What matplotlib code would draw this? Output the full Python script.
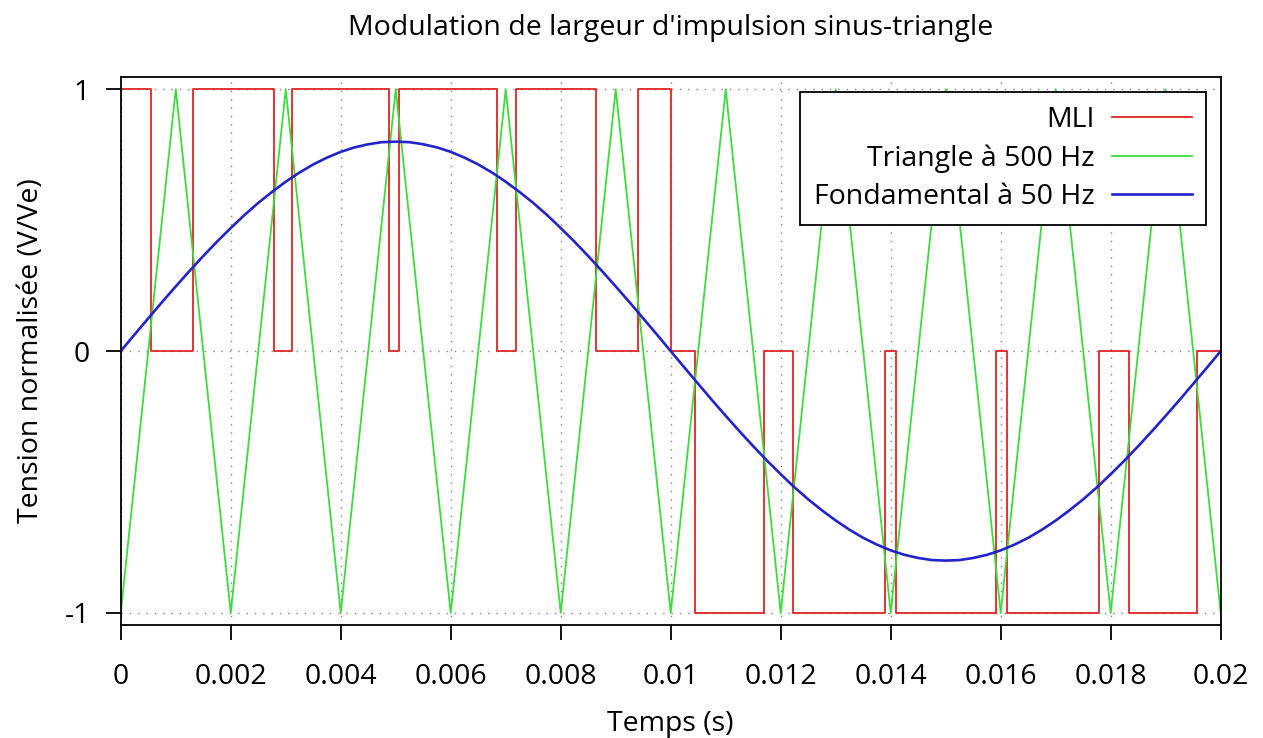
import matplotlib
matplotlib.use('Agg')
import matplotlib.pyplot as plt

plt.rcParams['font.family'] = ['Open Sans', 'DejaVu Sans']
plt.rcParams['axes.unicode_minus'] = False

# MLI (PWM) switching instants and levels
mli_t = [0, 0.000545, 0.001309, 0.002793, 0.003120, 0.004884, 0.005065,
         0.006836, 0.007187, 0.008642, 0.009405, 0.01, 0.010447, 0.011697,
         0.012231, 0.013905, 0.014104, 0.015915, 0.016115, 0.017782,
         0.018324, 0.019573, 0.02]
mli_v = [1, 0, 1, 0, 1, 0, 1, 0, 1, 0, 1, 0, -1, 0, -1, 0, -1, 0, -1, 0,
         -1, 0, 0]

# Triangle carrier (500 Hz) vertices
tri_t = [0, 0.001, 0.002, 0.003, 0.004, 0.005, 0.006, 0.007, 0.008, 0.009,
         0.01, 0.011, 0.012, 0.013, 0.014, 0.015, 0.016, 0.017, 0.018,
         0.019, 0.02]
tri_v = [-1, 1, -1, 1, -1, 1, -1, 1, -1, 1, -1, 1, -1, 1, -1, 1, -1, 1, -1,
         1, -1]

# Fundamental (50 Hz), sampled every 0.25 ms
sin_t = [i * 0.00025 for i in range(81)]
sin_v = [0, 0.063, 0.125, 0.187, 0.247, 0.306, 0.363, 0.418, 0.470, 0.520,
         0.566, 0.608, 0.647, 0.682, 0.713, 0.739, 0.761, 0.778, 0.790, 0.798,
         0.800, 0.798, 0.790, 0.778, 0.761, 0.739, 0.713, 0.682, 0.647, 0.608,
         0.566, 0.520, 0.470, 0.418, 0.363, 0.306, 0.247, 0.187, 0.125, 0.063,
         0, -0.063, -0.125, -0.187, -0.247, -0.306, -0.363, -0.418, -0.470,
         -0.520, -0.566, -0.608, -0.647, -0.682, -0.713, -0.739, -0.761,
         -0.778, -0.790, -0.798, -0.800, -0.798, -0.790, -0.778, -0.761,
         -0.739, -0.713, -0.682, -0.647, -0.608, -0.566, -0.520, -0.470,
         -0.418, -0.363, -0.306, -0.247, -0.187, -0.125, -0.063, 0]

x_ticks = [0, 0.002, 0.004, 0.006, 0.008, 0.01, 0.012, 0.014, 0.016, 0.018, 0.02]
x_labels = ['0', '0.002', '0.004', '0.006', '0.008', '0.01', '0.012',
            '0.014', '0.016', '0.018', '0.02']
y_ticks = [-1, 0, 1]

fs = 20.5

fig = plt.figure(figsize=(12.63, 7.38), dpi=100)
ax = fig.add_axes([0.0956, 0.1531, 0.8709, 0.7426])

ax.step(mli_t, mli_v, where='post', color='#e02424', lw=1.3, label='MLI')
ax.plot(tri_t, tri_v, color='#3ddc3d', lw=1.3, label='Triangle à 500 Hz')
ax.plot(sin_t, sin_v, color='#2323cc', lw=1.9, label='Fondamental à 50 Hz')

ax.set_xlim(0, 0.02)
ax.set_ylim(-1.046, 1.047)
ax.set_xticks(x_ticks)
ax.set_xticklabels(x_labels)
ax.set_yticks(y_ticks)
ax.grid(True, color='#808080', linestyle=(0, (1, 5)), lw=1)
ax.set_axisbelow(True)
ax.tick_params(direction='out', length=11, width=1.3, labelsize=fs, pad=11)
ax.tick_params(axis='x', pad=16)
for s in ax.spines.values():
    s.set_linewidth(1.3)

ax.set_xlabel('Temps (s)', fontsize=fs, labelpad=14)
ax.set_ylabel('Tension normalisée (V/Ve)', fontsize=fs, labelpad=14)
ax.set_title("Modulation de largeur d'impulsion sinus-triangle", fontsize=fs, pad=30)

leg = ax.legend(loc='upper right', bbox_to_anchor=(1206 / 1263, 1 - 92 / 738),
                bbox_transform=fig.transFigure, borderaxespad=0,
                markerfirst=False, fancybox=False, framealpha=1,
                edgecolor='black', fontsize=fs, handlelength=2.8,
                handletextpad=0.6, labelspacing=0.35, borderpad=0.5)
leg.get_frame().set_linewidth(1.3)

fig.savefig('out.png', dpi=100)
